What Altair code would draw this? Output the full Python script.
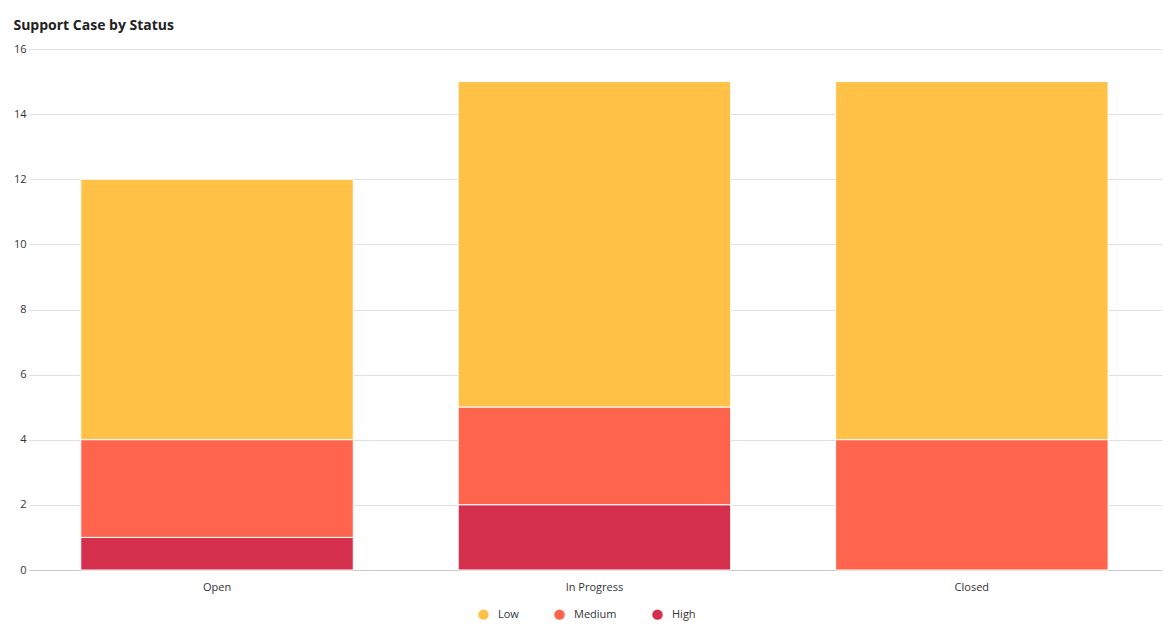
import altair as alt
import pandas as pd

statuses = ["Open", "In Progress", "Closed"]
priorities = ["Low", "Medium", "High"]
low_vals = [8, 10, 11]
medium_vals = [3, 3, 4]
high_vals = [1, 2, 0]
colors = ["#FFC247", "#FF654D", "#D42F4D"]
y_ticks = [0, 2, 4, 6, 8, 10, 12, 14, 16]

rows = []
stack_rank = {"High": 0, "Medium": 1, "Low": 2}
for i, s in enumerate(statuses):
    for p, vals in zip(priorities, [low_vals, medium_vals, high_vals]):
        if vals[i] > 0:
            rows.append({"Status": s, "Priority": p, "Count": vals[i], "rank": stack_rank[p]})
df = pd.DataFrame(rows)

font = "Open Sans"

chart = alt.Chart(df).mark_bar(stroke="white", strokeWidth=1).encode(
    x=alt.X("Status:N", sort=statuses, title=None,
            scale=alt.Scale(paddingInner=0.278, paddingOuter=0.14, align=0.49),
            axis=alt.Axis(labelAngle=0, ticks=False, domainColor="#c8c8c8",
                          labelPadding=11, labelFontSize=11, labelColor="#333",
                          labelFont=font, grid=False)),
    y=alt.Y("Count:Q", stack="zero", title=None,
            scale=alt.Scale(domain=[0, 16]),
            axis=alt.Axis(values=y_ticks, ticks=False, domain=False,
                          gridColor="#e0e0e0", labelPadding=3, labelFontSize=11,
                          labelColor="#333", labelFont=font)),
    color=alt.Color("Priority:N",
                    scale=alt.Scale(domain=priorities, range=colors),
                    legend=alt.Legend(orient="none", legendX=449, legendY=560,
                                      direction="horizontal", title=None,
                                      symbolType="circle", symbolSize=110,
                                      labelFontSize=11, labelColor="#333", labelFont=font,
                                      labelOffset=9, columnPadding=35, symbolStrokeWidth=0)),
    order=alt.Order("rank:Q", sort="ascending"),
    tooltip=["Status", "Priority", "Count"],
).properties(
    width=1133,
    height=521,
    padding={"top": 11, "left": 5, "right": 5, "bottom": 5},
    title=alt.TitleParams("Support Case by Status", anchor="start", fontSize=14,
                          font=font, fontWeight="bold", color="#222", offset=10,
                          frame="bounds"),
).configure_view(stroke=None)

chart.save("out.html", embed_options={"renderer": "svg", "actions": False})
